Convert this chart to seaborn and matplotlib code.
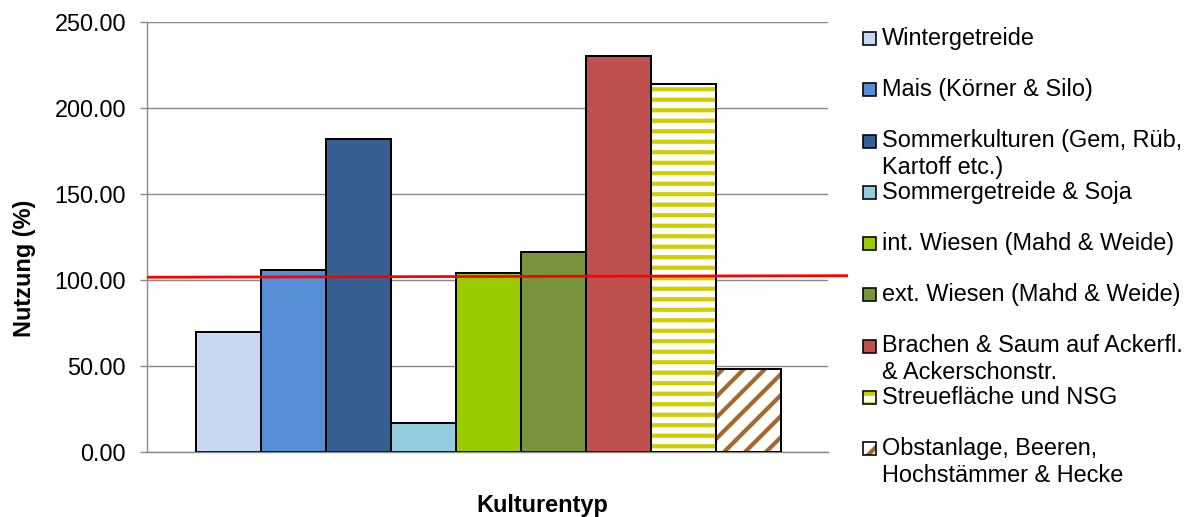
import matplotlib
matplotlib.use("Agg")
import matplotlib.pyplot as plt
from matplotlib.patches import Rectangle
from matplotlib.ticker import StrMethodFormatter
import seaborn as sns
import pandas as pd

# --- data -------------------------------------------------------------
categories = [
    "Wintergetreide",
    "Mais (Körner & Silo)",
    "Sommerkulturen (Gem, Rüb, Kartoff etc.)",
    "Sommergetreide & Soja",
    "int. Wiesen (Mahd & Weide)",
    "ext. Wiesen (Mahd & Weide)",
    "Brachen & Saum auf Ackerfl. & Ackerschonstr.",
    "Streuefläche und NSG",
    "Obstanlage, Beeren, Hochstämmer & Hecke",
]
legend_labels = [
    "Wintergetreide",
    "Mais (Körner & Silo)",
    "Sommerkulturen (Gem, Rüb,\nKartoff etc.)",
    "Sommergetreide & Soja",
    "int. Wiesen (Mahd & Weide)",
    "ext. Wiesen (Mahd & Weide)",
    "Brachen & Saum auf Ackerfl.\n& Ackerschonstr.",
    "Streuefläche und NSG",
    "Obstanlage, Beeren,\nHochstämmer & Hecke",
]
nutzung = [69.5, 105.8, 181.9, 16.5, 104.1, 116.3, 230.6, 214.3, 48.4]
reference_line = [101.6, 102.5]
y_ticks = [0, 50, 100, 150, 200, 250]
x_title = "Kulturentyp"
y_title = "Nutzung (%)"

# --- styling ----------------------------------------------------------
fill_colors = ["#C6D9F1", "#558ED5", "#376092", "#93CDDD", "#99CC00",
               "#77933C", "#C0504D", "#FFFFFF", "#FFFFFF"]
hatches = [None, None, None, None, None, None, None, "--", "//"]
hatch_colors = [None, None, None, None, None, None, None, "#D0CD00", "#A5692E"]
GRID = "#8A8A8A"

DPI = 126
W, H = 1197, 517
FS = 23.5  # text size in pixels


def pt(px):
    """pixels -> points at the figure resolution"""
    return px * 72 / DPI


sns.set_theme(style="white")
plt.rcParams["font.family"] = ["Liberation Sans", "DejaVu Sans"]
plt.rcParams["hatch.linewidth"] = pt(4.2)

fig = plt.figure(figsize=(W / DPI, H / DPI), dpi=DPI)
ax = fig.add_axes([147 / W, 1 - 451.7 / H, 681 / W, 429.3 / H])

df = pd.DataFrame({
    "Gruppe": [x_title] * len(categories),
    "Kultur": categories,
    "Nutzung": nutzung,
})

sns.barplot(data=df, x="Gruppe", y="Nutzung", hue="Kultur",
            hue_order=categories, palette=fill_colors, saturation=1,
            width=0.8, gap=0, edgecolor="black", linewidth=pt(2),
            legend=False, errorbar=None, ax=ax, zorder=2)

# patterned bars: hatch in colour, black outline drawn on top
for container, hatch, hcol in zip(ax.containers, hatches, hatch_colors):
    if hatch is None:
        continue
    for bar in container:
        bar.set_hatch(hatch)
        bar.set_edgecolor(hcol)
        bar.set_linewidth(0)
        ax.add_patch(Rectangle(bar.get_xy(), bar.get_width(), bar.get_height(),
                               fill=False, edgecolor="black",
                               linewidth=pt(2), zorder=3))

x0, x1 = -0.4666, 0.4647
ax.set_xlim(x0, x1)
ax.set_ylim(y_ticks[0], y_ticks[-1])

# reference line running slightly past the plot area
ax.plot([x0, x1 + 20 / 731.25], reference_line, color="#FF0000",
        linewidth=pt(2.8), clip_on=False, zorder=5, solid_capstyle="butt")

# axes cosmetics
ax.set_axisbelow(True)
ax.yaxis.grid(True, color=GRID, linewidth=pt(1.4))
ax.set_yticks(y_ticks)
ax.yaxis.set_major_formatter(StrMethodFormatter("{x:.2f}"))
ax.tick_params(axis="y", left=True, direction="out", length=pt(7),
               width=pt(1.4), color=GRID, pad=pt(14),
               labelsize=pt(FS), labelcolor="black")
ax.set_xticks([])
for side in ("top", "right"):
    ax.spines[side].set_visible(False)
for side in ("left", "bottom"):
    ax.spines[side].set_color(GRID)
    ax.spines[side].set_linewidth(pt(1.4))

ax.set_xlabel(x_title, fontsize=pt(FS), fontweight="bold", color="black",
              va="baseline")
ax.xaxis.set_label_coords(0.58, (451.7 - 511.7) / 429.3)
ax.set_ylabel(y_title, fontsize=pt(FS), fontweight="bold", color="black")
ax.yaxis.label.set_va("center")
ax.yaxis.set_label_coords((24 - 147) / 681, (451.7 - 268.5) / 429.3)

# legend on the right: one swatch per entry, wrapped labels flow downwards
box = 13
line_step = 26.7
for i, (lab, col, hatch, hcol) in enumerate(
        zip(legend_labels, fill_colors, hatches, hatch_colors)):
    base = 45 + 51.25 * i
    xy = (863 / W, 1 - base / H)
    wh = (box / W, box / H)
    if hatch is None:
        fig.patches.append(Rectangle(xy, *wh, transform=fig.transFigure,
                                     facecolor=col, edgecolor="black",
                                     linewidth=pt(1.6)))
    else:
        fig.patches.append(Rectangle(xy, *wh, transform=fig.transFigure,
                                     facecolor=col, edgecolor=hcol,
                                     hatch=hatch, linewidth=0))
        fig.patches.append(Rectangle(xy, *wh, transform=fig.transFigure,
                                     fill=False, edgecolor="black",
                                     linewidth=pt(1.6)))
    for k, line in enumerate(lab.split("\n")):
        fig.text(882 / W, 1 - (base + k * line_step) / H, line,
                 fontsize=pt(FS), color="black", ha="left", va="baseline")

fig.savefig("out.png", dpi=DPI)
